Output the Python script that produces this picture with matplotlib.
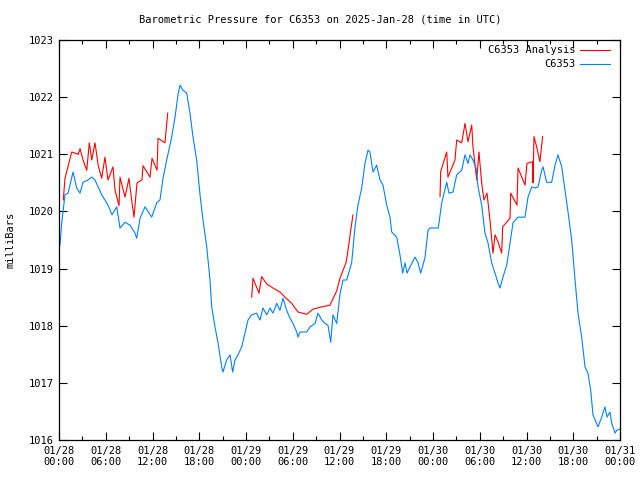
import matplotlib
matplotlib.use('Agg')
import matplotlib.pyplot as plt
import numpy as np

# hours since 2025-01-28 00:00 UTC
obs_hours = [0.13, 0.35, 0.77, 1.16, 1.41, 1.80, 2.27, 2.70, 3.08, 3.72, 4.20, 4.62, 5.01, 5.48,
             5.90, 6.29, 6.80, 7.41, 7.83, 8.47, 9.11, 9.75, 9.97, 10.40, 11.04, 11.90, 12.54,
             12.96, 13.35, 13.82, 14.46, 14.89, 15.27, 15.53, 15.91, 16.39, 16.81, 17.20, 17.67,
             18.10, 18.48, 18.96, 19.38, 19.60, 20.02, 20.41, 20.88, 21.05, 21.52, 21.95, 22.29,
             22.59, 22.97, 23.45, 23.87, 24.26, 24.73, 25.37, 25.80, 26.18, 26.66, 27.08, 27.46,
             27.94, 28.36, 28.75, 29.22, 29.65, 30.03, 30.51, 30.67, 30.93, 31.79, 32.21, 32.86,
             33.24, 33.72, 34.14, 34.52, 34.87, 35.16, 35.64, 36.06, 36.45, 36.92, 37.56, 37.99,
             38.37, 38.85, 39.27, 39.66, 39.91, 40.30, 40.77, 41.20, 41.58, 42.06, 42.48, 42.70,
             43.34, 43.76, 44.11, 44.41, 44.66, 45.05, 45.69, 46.07, 46.42, 46.97, 47.36, 47.61,
             48.68, 49.12, 49.76, 50.05, 50.57, 51.04, 51.68, 52.11, 52.49, 52.75, 53.13, 53.52,
             53.78, 54.25, 54.67, 55.06, 55.53, 55.96, 56.34, 56.60, 56.98, 57.46, 57.88, 58.27,
             58.91, 59.81, 60.19, 60.67, 61.09, 61.48, 61.95, 62.12, 62.59, 63.23, 63.66, 64.04,
             64.52, 64.94, 65.33, 65.80, 66.23, 66.61, 67.08, 67.51, 67.89, 68.24, 68.53, 69.18,
             69.65, 70.07, 70.33, 70.71, 70.93, 71.36, 71.58, 72.0]
obs_mb = [1019.41, 1019.8, 1020.29, 1020.32, 1020.46, 1020.69, 1020.41, 1020.32, 1020.51, 1020.55,
          1020.6, 1020.55, 1020.43, 1020.29, 1020.2, 1020.11, 1019.94, 1020.08, 1019.71, 1019.81,
          1019.76, 1019.62, 1019.53, 1019.88, 1020.08, 1019.9, 1020.15, 1020.2, 1020.58, 1020.9,
          1021.3, 1021.65, 1022.04, 1022.21, 1022.12, 1022.07, 1021.72, 1021.3, 1020.9, 1020.29,
          1019.85, 1019.38, 1018.8, 1018.33, 1017.98, 1017.7, 1017.28, 1017.19, 1017.4, 1017.49,
          1017.19, 1017.4, 1017.49, 1017.63, 1017.87, 1018.1, 1018.19, 1018.22, 1018.1, 1018.31,
          1018.19, 1018.31, 1018.22, 1018.39, 1018.27, 1018.48, 1018.27, 1018.13, 1018.04, 1017.89,
          1017.8, 1017.89, 1017.89, 1017.98, 1018.04, 1018.22, 1018.1, 1018.04, 1018.01, 1017.71,
          1018.19, 1018.04, 1018.55, 1018.8, 1018.8, 1019.1, 1019.73, 1020.11, 1020.41, 1020.84,
          1021.07, 1021.04, 1020.69, 1020.81, 1020.55, 1020.46, 1020.11, 1019.9, 1019.64, 1019.55,
          1019.24, 1018.92, 1019.1, 1018.92, 1019.03, 1019.2, 1019.11, 1018.92, 1019.19, 1019.67,
          1019.71, 1019.71, 1020.15, 1020.51, 1020.32, 1020.34, 1020.64, 1020.72, 1020.99, 1020.84,
          1020.99, 1020.9, 1020.76, 1020.43, 1020.11, 1019.62, 1019.45, 1019.1, 1018.92, 1018.75,
          1018.66, 1018.85, 1019.06, 1019.45, 1019.8, 1019.9, 1019.9, 1020.25, 1020.43, 1020.41,
          1020.43, 1020.72, 1020.78, 1020.51, 1020.51, 1020.81, 1020.99, 1020.78, 1020.37, 1019.99,
          1019.5, 1018.8, 1018.22, 1017.8, 1017.28, 1017.17, 1016.87, 1016.44, 1016.23, 1016.4,
          1016.58, 1016.4, 1016.49, 1016.3, 1016.12, 1016.17, 1016.19]

# analysis series, NaN marks the gaps
ana_hours = [0.55, 0.77, 1.63, 2.48, 2.70, 3.08, 3.56, 3.89, 4.20, 4.62, 5.04, 5.48, 5.90, 6.29,
             6.93, 7.19, 7.70, 7.83, 8.47, 8.98, 9.37, 9.63, 10.01, 10.65, 10.78, 11.68, 11.94,
             12.58, 12.71, 13.60, 13.95, 19.0,
             24.73, 24.90, 25.67, 26.01, 26.66, 27.46, 28.36, 29.0, 29.87, 30.67, 31.79, 32.60,
             33.72, 34.78, 35.64, 36.06, 36.45, 36.83, 37.09, 37.44, 37.73, 43.0,
             48.90, 48.99, 49.76, 49.92, 50.82, 51.04, 51.68, 52.11, 52.49, 52.97, 53.13, 53.61,
             53.90, 54.25, 54.54, 54.93, 55.31, 55.70, 55.96, 56.34, 56.82, 56.94, 57.88, 57.97,
             58.78, 58.91, 59.81, 60.06, 60.79, 60.83, 60.96, 61.30, 61.72, 62.07]
ana_mb = [1020.2, 1020.58, 1021.04, 1021.0, 1021.1, 1020.9, 1020.72, 1021.2, 1020.9, 1021.2, 1020.8,
          1020.58, 1020.95, 1020.55, 1020.78, 1020.37, 1020.1, 1020.6, 1020.25, 1020.58, 1020.15,
          1019.9, 1020.5, 1020.55, 1020.8, 1020.6, 1020.93, 1020.72, 1021.28, 1021.2, 1021.72, np.nan,
          1018.5, 1018.83, 1018.57, 1018.86, 1018.73, 1018.66, 1018.59, 1018.5, 1018.39, 1018.24,
          1018.2, 1018.29, 1018.33, 1018.36, 1018.61, 1018.83, 1018.97, 1019.1, 1019.32, 1019.67,
          1019.94, np.nan,
          1020.26, 1020.7, 1021.04, 1020.6, 1020.9, 1021.25, 1021.2, 1021.54, 1021.22, 1021.51,
          1021.13, 1020.55, 1021.04, 1020.49, 1020.2, 1020.32, 1019.85, 1019.27, 1019.59, 1019.47,
          1019.27, 1019.73, 1019.88, 1020.32, 1020.11, 1020.76, 1020.46, 1020.84, 1020.87, 1020.5,
          1021.31, 1021.13, 1020.87, 1021.31]

tick_hours = list(range(0, 73, 6))
tick_labels = ['01/28\n00:00', '01/28\n06:00', '01/28\n12:00', '01/28\n18:00',
               '01/29\n00:00', '01/29\n06:00', '01/29\n12:00', '01/29\n18:00',
               '01/30\n00:00', '01/30\n06:00', '01/30\n12:00', '01/30\n18:00',
               '01/31\n00:00']

plt.rcParams['font.family'] = 'DejaVu Sans Mono'
plt.rcParams['font.size'] = 7.5

fig = plt.figure(figsize=(6.4, 4.8), dpi=100)
ax = fig.add_axes([59 / 640, 40 / 480, 561 / 640, 400 / 480])

ax.plot(ana_hours, ana_mb, color='#ff0000', lw=0.8)
ax.plot(obs_hours, obs_mb, color='#0080ff', lw=0.8)

ax.set_xlim(0, 72)
ax.set_ylim(1016, 1023)
ax.set_xticks(tick_hours)
ax.set_xticklabels(tick_labels)
ax.set_xticks(range(3, 72, 6), minor=True)
ax.set_yticks(range(1016, 1024))
ax.tick_params(which='both', direction='in', top=True, right=True, pad=4)
ax.tick_params(which='major', length=6, width=0.8)
ax.tick_params(which='minor', length=3, width=0.8)
for s in ax.spines.values():
    s.set_linewidth(0.9)

ax.set_ylabel('milliBars', labelpad=9)
fig.text(0.5, 1 - 20 / 480, 'Barometric Pressure for C6353 on 2025-Jan-28 (time in UTC)',
         ha='center', va='center')

# gnuplot-style key, text right-aligned before the sample line
keys = [('C6353 Analysis', '#ff0000'), ('C6353', '#0080ff')]
for i, (name, col) in enumerate(keys):
    yk = 0.975 - i * 0.035
    ax.text(0.92, yk, name, transform=ax.transAxes, ha='right', va='center')
    ax.plot([0.929, 0.982], [yk, yk], transform=ax.transAxes, color=col, lw=0.8)

fig.savefig('out.png', dpi=100)
